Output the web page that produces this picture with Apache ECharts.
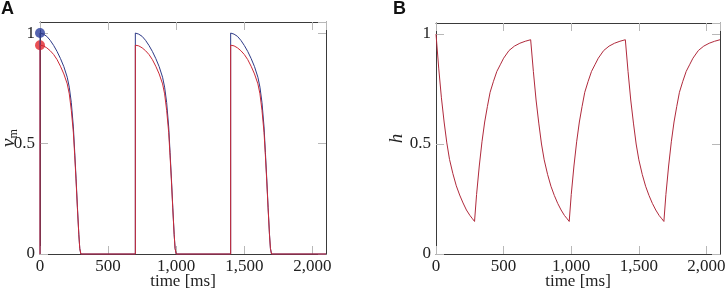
<!DOCTYPE html>
<html>
<head>
<meta charset="utf-8">
<script src="https://cdn.jsdelivr.net/npm/echarts@6/dist/echarts.min.js"></script>
<style>
  html, body { margin: 0; padding: 0; background: #fff; }
  #chart { width: 726px; height: 291px; }
</style>
</head>
<body>
<div id="chart"></div>
<script>
// panel A: membrane variable v_m, three pulses (time in ms)
const vTime = [
  0, 0, 25, 50, 75, 100, 125, 150, 175, 200, 215, 230, 245, 255, 265, 275, 285, 292, 300,
  700, 700, 725, 750, 775, 800, 825, 850, 875, 900, 915, 930, 945, 955, 965, 975, 985, 992, 1000,
  1400, 1400, 1425, 1450, 1475, 1500, 1525, 1550, 1575, 1600, 1615, 1630, 1645, 1655, 1665, 1675, 1685, 1692, 1700,
  2100
];
const vBlue = [
  0, 1, 0.995, 0.985, 0.967, 0.944, 0.917, 0.885, 0.848, 0.8, 0.755, 0.685, 0.575, 0.46, 0.34, 0.21, 0.09, 0.025, 0,
  0, 1, 0.995, 0.985, 0.967, 0.944, 0.917, 0.885, 0.848, 0.8, 0.755, 0.685, 0.575, 0.46, 0.34, 0.21, 0.09, 0.025, 0,
  0, 1, 0.995, 0.985, 0.967, 0.944, 0.917, 0.885, 0.848, 0.8, 0.755, 0.685, 0.575, 0.46, 0.34, 0.21, 0.09, 0.025, 0,
  0
];
const vRed = [
  0, 0.945, 0.942, 0.933, 0.92, 0.903, 0.88, 0.85, 0.815, 0.77, 0.725, 0.65, 0.55, 0.445, 0.33, 0.205, 0.088, 0.025, 0,
  0, 0.945, 0.942, 0.933, 0.92, 0.903, 0.88, 0.85, 0.815, 0.77, 0.725, 0.65, 0.55, 0.445, 0.33, 0.205, 0.088, 0.025, 0,
  0, 0.945, 0.942, 0.933, 0.92, 0.903, 0.88, 0.85, 0.815, 0.77, 0.725, 0.65, 0.55, 0.445, 0.33, 0.205, 0.088, 0.025, 0,
  0
];
// initial values (dots)
const startBlue = [0, 1];
const startRed = [0, 0.945];

// panel B: gating variable h
const hTime = [
  0, 20, 40, 60, 80, 100, 125, 150, 175, 200, 225, 250, 270, 285,
  300, 320, 340, 360, 380, 400, 425, 450, 475, 500, 540, 580, 620, 660, 700,
  720, 740, 760, 780, 800, 825, 850, 875, 900, 925, 950, 970, 985,
  1000, 1020, 1040, 1060, 1080, 1100, 1125, 1150, 1175, 1200, 1240, 1280, 1320, 1360, 1400,
  1420, 1440, 1460, 1480, 1500, 1525, 1550, 1575, 1600, 1625, 1650, 1670, 1685,
  1700, 1720, 1740, 1760, 1780, 1800, 1825, 1850, 1875, 1900, 1940, 1980, 2020, 2060, 2100
];
const hValue = [
  1, 0.845, 0.71, 0.6, 0.505, 0.43, 0.365, 0.31, 0.268, 0.232, 0.2, 0.176, 0.16, 0.148,
  0.27, 0.4, 0.51, 0.6, 0.67, 0.735, 0.785, 0.83, 0.86, 0.89, 0.925, 0.945, 0.958, 0.967, 0.974,
  0.83, 0.7, 0.595, 0.5, 0.428, 0.362, 0.308, 0.266, 0.23, 0.2, 0.175, 0.16, 0.148,
  0.27, 0.4, 0.51, 0.6, 0.67, 0.735, 0.785, 0.83, 0.86, 0.89, 0.925, 0.945, 0.958, 0.967, 0.974,
  0.83, 0.7, 0.595, 0.5, 0.428, 0.362, 0.308, 0.266, 0.23, 0.2, 0.175, 0.16, 0.148,
  0.27, 0.4, 0.51, 0.6, 0.67, 0.735, 0.785, 0.83, 0.86, 0.89, 0.925, 0.945, 0.958, 0.967, 0.974
];

const xTicks = [0, 500, 1000, 1500, 2000];
const yTicks = [0, 0.5, 1];

const serif = 'Liberation Serif';
const frameColor = '#3a3a3a';
const tickColor = '#b8b8b8';

function pairs(xs, ys) {
  return xs.map((x, i) => [x, ys[i]]);
}

function fmtX(v) {
  return xTicks.includes(v) ? v.toLocaleString('en-US') : '';
}
function fmtY(v) {
  return yTicks.includes(v) ? String(v) : '';
}

function xAxisPair(gi) {
  const base = {
    type: 'value', gridIndex: gi, min: 0, max: 2100, interval: 500,
    axisLine: { show: true, onZero: false, lineStyle: { color: frameColor, width: 1 } },
    axisTick: { show: true, inside: true, length: 8, lineStyle: { color: tickColor } },
    splitLine: { show: false }
  };
  return [
    Object.assign({}, base, {
      position: 'bottom',
      name: 'time [ms]', nameLocation: 'middle', nameGap: 19, nameMoveOverlap: false,
      nameTextStyle: { fontFamily: serif, fontSize: 17, color: '#222' },
      axisLabel: { show: true, showMaxLabel: false, margin: 4, formatter: fmtX,
        fontFamily: serif, fontSize: 17, color: '#222' }
    }),
    Object.assign({}, base, { position: 'top', axisLabel: { show: false } })
  ];
}

function yAxisPair(gi, name, nameGap) {
  const base = {
    type: 'value', gridIndex: gi, min: 0, max: 1.05, interval: 0.5,
    axisLine: { show: true, onZero: false, lineStyle: { color: frameColor, width: 1 } },
    axisTick: { show: true, inside: true, length: 8, lineStyle: { color: tickColor } },
    splitLine: { show: false }
  };
  return [
    Object.assign({}, base, {
      position: 'left',
      name: name, nameLocation: 'middle', nameGap: nameGap, nameRotate: 90, nameMoveOverlap: false,
      nameTextStyle: {
        color: '#222',
        rich: {
          i: { fontFamily: serif, fontStyle: 'italic', fontSize: 19, lineHeight: 22, verticalAlign: 'middle', color: '#222' },
          s: { fontFamily: serif, fontSize: 12, lineHeight: 12, verticalAlign: 'bottom', color: '#222' }
        }
      },
      axisLabel: { show: true, showMaxLabel: false, margin: 5, formatter: fmtY,
        fontFamily: serif, fontSize: 17, color: '#222' }
    }),
    Object.assign({}, base, { position: 'right', axisLabel: { show: false } })
  ];
}

const chart = echarts.init(document.getElementById('chart'), null, { renderer: 'canvas' });

chart.setOption({
  animation: false,
  backgroundColor: '#fff',
  grid: [
    { left: 40, right: 400, top: 22, bottom: 37, containLabel: false, outerBoundsMode: 'none' },
    { left: 436, right: 6, top: 23, bottom: 37, containLabel: false, outerBoundsMode: 'none' }
  ],
  xAxis: [].concat(xAxisPair(0), xAxisPair(1)),
  yAxis: [].concat(yAxisPair(0, '{i|v}{s|m}', 20), yAxisPair(1, '{i|h}', 28)),
  graphic: [
    { type: 'text', left: 1, top: 0, style: { text: 'A', font: 'bold 18px "Liberation Sans"', fill: '#111' } },
    { type: 'text', left: 393, top: 0, style: { text: 'B', font: 'bold 18px "Liberation Sans"', fill: '#111' } }
  ],
  series: [
    {
      type: 'line', xAxisIndex: 0, yAxisIndex: 0, data: pairs(vTime, vBlue),
      showSymbol: false, clip: false, lineStyle: { color: '#2e3a87', width: 1 }
    },
    {
      type: 'line', xAxisIndex: 0, yAxisIndex: 0, data: pairs(vTime, vRed),
      showSymbol: false, clip: false, lineStyle: { color: '#cc2936', width: 1 }
    },
    {
      type: 'scatter', xAxisIndex: 0, yAxisIndex: 0, data: [startRed],
      symbolSize: 10, clip: false, itemStyle: { color: '#e3262b' }
    },
    {
      type: 'scatter', xAxisIndex: 0, yAxisIndex: 0, data: [startBlue],
      symbolSize: 10, clip: false, itemStyle: { color: '#2a3d9c' }
    },
    {
      type: 'line', xAxisIndex: 2, yAxisIndex: 2, data: pairs(hTime, hValue),
      showSymbol: false, clip: false, lineStyle: { color: '#b02a3c', width: 1 }
    }
  ]
});
</script>
</body>
</html>
